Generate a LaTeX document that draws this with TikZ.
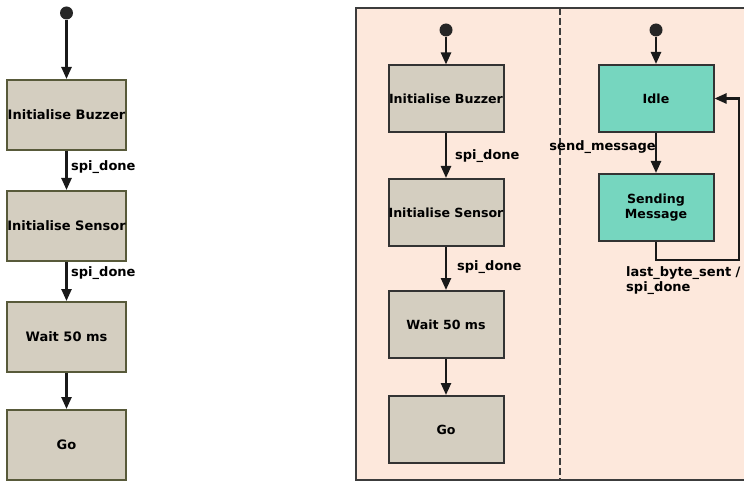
\documentclass[tikz,border=0pt]{standalone}
\usepackage{fontspec}
\setmainfont{DejaVu Sans}
\usetikzlibrary{arrows.meta,positioning}
\definecolor{stgray}{RGB}{212,206,192}
\definecolor{stteal}{RGB}{118,214,191}
\definecolor{peach}{RGB}{253,232,220}
\definecolor{olivedraw}{RGB}{88,90,58}
\definecolor{framegray}{RGB}{60,60,60}

\begin{document}
\begin{tikzpicture}[
      x=1pt,y=-1pt,
      lst/.style={draw=olivedraw,line width=2pt,fill=stgray,inner sep=0pt,
                  minimum width=119pt,minimum height=70pt,
                  font=\bfseries\fontsize{13}{15.5}\selectfont},
      rst/.style={draw=black!80,line width=2pt,fill=stgray,inner sep=0pt,
                  minimum width=115pt,minimum height=67pt,
                  font=\bfseries\fontsize{12.6}{15.5}\selectfont},
      tst/.style={rst,fill=stteal,align=center},
      initdot/.style={circle,fill=black!85,minimum size=13pt,inner sep=0pt},
      arr/.style={-{Triangle[length=12pt,width=10pt]},line width=2.4pt,black!90},
      lbl/.style={font=\bfseries\fontsize{13}{15.5}\selectfont,inner sep=0pt},
    ]
    \useasboundingbox (0,0) rectangle (744,481);

    % ── Left: start-up sequence ───────────────────────────────────────────
    \node[initdot] (ldot)     at (66.5,13)  {};
    \node[lst]     (lbuzzer)  at (66.5,115) {Initialise Buzzer};
    \node[lst]     (lsensor)  at (66.5,226) {Initialise Sensor};
    \node[lst]     (lwait)    at (66.5,337) {Wait 50 ms};
    \node[lst]     (lgo)      at (66.5,445) {Go};

    \draw[arr] (ldot)    -- (lbuzzer);
    \draw[arr] (lbuzzer) -- (lsensor);
    \draw[arr] (lsensor) -- (lwait);
    \draw[arr] (lwait)   -- (lgo);

    \node[lbl,anchor=west] at (71,167) {spi\_done};
    \node[lbl,anchor=west] at (71,273) {spi\_done};

    % ── Right: frame with two regions ─────────────────────────────────────
    \fill[peach] (356,8) rectangle (760,480);
    \draw[framegray,line width=2.5pt] (356,8) rectangle (760,480);
    \draw[framegray,line width=1.8pt,dash pattern=on 7pt off 3pt]
          (560,8) -- (560,480);

    % ── Right region 1: start-up sequence ─────────────────────────────────
    \node[initdot] (rdot)     at (446,30)    {};
    \node[rst]     (rbuzzer)  at (446,99)    {Initialise Buzzer};
    \node[rst]     (rsensor)  at (446,212.5) {Initialise Sensor};
    \node[rst]     (rwait)    at (446,324.5) {Wait 50 ms};
    \node[rst]     (rgo)      at (446,429.5) {Go};

    \draw[arr] (rdot)    -- (rbuzzer);
    \draw[arr] (rbuzzer) -- (rsensor);
    \draw[arr] (rsensor) -- (rwait);
    \draw[arr] (rwait)   -- (rgo);

    \node[lbl,anchor=west] at (455,156) {spi\_done};
    \node[lbl,anchor=west] at (457,267) {spi\_done};

    % ── Right region 2: messaging ─────────────────────────────────────────
    \node[initdot] (mdot)    at (656,30)    {};
    \node[tst]     (idle)    at (656,98.5)  {Idle};
    \node[tst]     (sending) at (656,207.5) {Sending\\Message};
    \coordinate (loopc) at (739,260);

    \draw[arr] (mdot) -- (idle);
    \draw[arr] (idle) -- (sending);
    \draw[arr] (sending.south) |- (loopc) |- (idle.east);

    \node[lbl,anchor=east] at (656,147) {send\_message};
    \node[lbl,anchor=north west,align=left] at (626,266)
          {last\_byte\_sent /\\spi\_done};

  \end{tikzpicture}
\end{document}
